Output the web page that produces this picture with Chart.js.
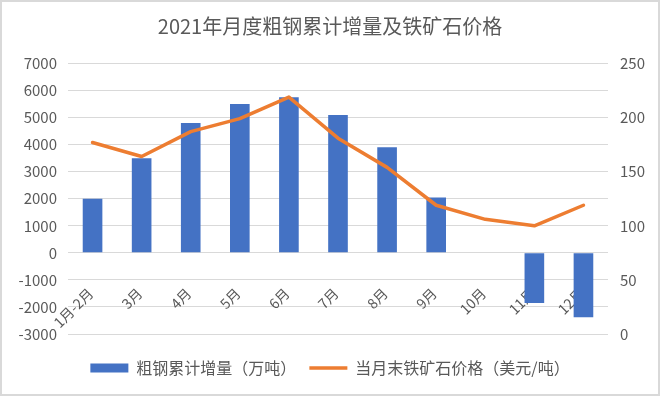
<!DOCTYPE html>
<html>
<head>
<meta charset="utf-8">
<script src="https://cdn.jsdelivr.net/npm/chart.js@4/dist/chart.umd.min.js"></script>
<style>
  html, body { margin: 0; padding: 0; background: #fff; }
  #wrap { width: 660px; height: 396px; position: relative; }
</style>
</head>
<body>
<div id="wrap"><canvas id="chart" width="660" height="396"></canvas></div>
<script>
// values
var months = ['1月-2月', '3月', '4月', '5月', '6月', '7月', '8月', '9月', '10月', '11月', '12月'];
var steelIncrease = [2000, 3500, 4800, 5500, 5750, 5100, 3900, 2050, null, -1850, -2380]; // 万吨
var orePrice = [177, 164, 187, 199, 219, 181, 154, 119, 106, 100, 119]; // 美元/吨

var FONT = '"Noto Sans CJK SC", "Liberation Sans", sans-serif';
var GREY = '#595959';

// light frame round the whole picture, like the Excel chart border
var framePlugin = {
    id: 'frame',
    afterDraw: function (chart) {
        var ctx = chart.ctx;
        ctx.save();
        ctx.strokeStyle = '#d9d9d9';
        ctx.lineWidth = 2;
        ctx.strokeRect(1, 1, chart.width - 2, chart.height - 2);
        ctx.restore();
    }
};

var plainNumber = function (value) { return String(value); };

var ctx = document.getElementById('chart');
var chart = new Chart(ctx, {
    type: 'bar',
    data: {
        labels: months,
        datasets: [{
            type: 'bar',
            label: '粗钢累计增量（万吨）',
            data: steelIncrease,
            backgroundColor: '#4472C4',
            borderWidth: 0,
            barPercentage: 0.4,
            categoryPercentage: 1,
            yAxisID: 'y',
            order: 2
        }, {
            type: 'line',
            label: '当月末铁矿石价格（美元/吨）',
            data: orePrice,
            borderColor: '#ED7D31',
            backgroundColor: '#ED7D31',
            borderWidth: 3.5,
            pointRadius: 0,
            tension: 0,
            borderJoinStyle: 'round',
            borderCapStyle: 'round',
            yAxisID: 'y1',
            order: 1
        }]
    },
    options: {
        responsive: false,
        animation: false,
        layout: { padding: { left: 0, right: 0, top: 0, bottom: 10 } },
        plugins: {
            title: {
                display: true,
                text: '2021年月度粗钢累计增量及铁矿石价格',
                color: GREY,
                font: { family: FONT, size: 20, weight: 'normal' },
                padding: { top: 14, bottom: 25.5 }
            },
            legend: {
                position: 'bottom',
                // empty title only to keep a gap above the legend row
                title: { display: true, text: '', font: { size: 10 }, padding: { top: 0, bottom: 1 } },
                labels: {
                    color: GREY,
                    font: { family: FONT, size: 16 },
                    usePointStyle: true,
                    pointStyleWidth: 38,
                    boxHeight: 9,
                    padding: 13,
                    sort: function (a, b) { return a.datasetIndex - b.datasetIndex; },
                    generateLabels: function (chart) {
                        var items = Chart.defaults.plugins.legend.labels.generateLabels(chart);
                        items.forEach(function (it) {
                            it.pointStyle = it.datasetIndex === 1 ? 'line' : 'rect';
                        });
                        return items;
                    }
                }
            },
            tooltip: { enabled: false }
        },
        scales: {
            x: {
                position: { y: 0 },
                z: 1, // month labels sit on top of the negative bars
                grid: { display: false },
                border: { display: false },
                ticks: {
                    color: GREY,
                    font: { family: FONT, size: 14 },
                    autoSkip: false,
                    maxRotation: 45,
                    minRotation: 45,
                    padding: 24,
                    labelOffset: -2
                }
            },
            y: {
                position: 'left',
                min: -3000,
                max: 7000,
                grid: { color: '#d9d9d9', lineWidth: 1, drawTicks: false },
                border: { display: false },
                ticks: {
                    stepSize: 1000,
                    color: GREY,
                    font: { family: FONT, size: 15 },
                    padding: 11,
                    callback: plainNumber
                },
                afterFit: function (scale) { scale.width = 68; }
            },
            y1: {
                position: 'right',
                min: 0,
                max: 250,
                grid: { display: false, drawTicks: false },
                border: { display: false },
                ticks: {
                    stepSize: 50,
                    color: GREY,
                    font: { family: FONT, size: 15 },
                    padding: 12,
                    callback: plainNumber
                },
                afterFit: function (scale) { scale.width = 52; }
            }
        }
    },
    plugins: [framePlugin]
});
</script>
</body>
</html>
